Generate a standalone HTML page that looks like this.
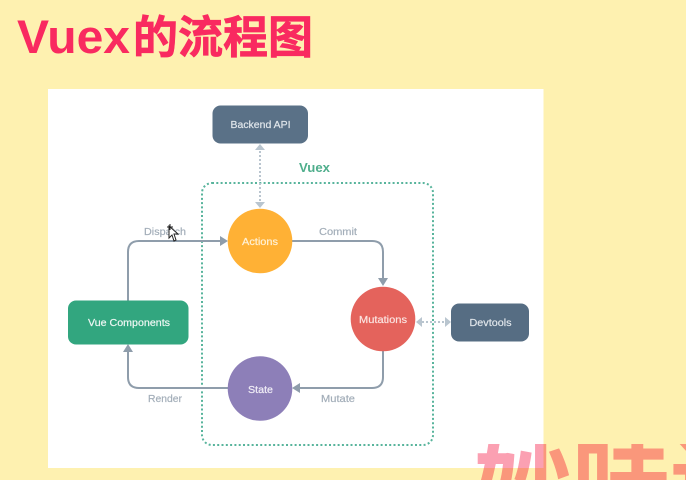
<!DOCTYPE html>
<html>
<head>
<meta charset="utf-8">
<style>
html,body{margin:0;padding:0;width:686px;height:480px;overflow:hidden;background:#fef1b0}
#frame{position:relative;width:686px;height:480px;overflow:hidden}
svg{display:block;position:absolute;left:0;top:0}
#wm{position:absolute;left:0;top:444px;width:686px;height:36px;overflow:hidden;mix-blend-mode:multiply}
#wm span{position:absolute;left:474px;top:-10px;width:212px;height:46px;overflow:hidden;display:block;font:700 98px/98px "Liberation Sans","Noto Sans CJK SC",sans-serif;color:#fba0b2;white-space:nowrap}
</style>
</head>
<body>
<div id="frame">
<svg width="686" height="480" viewBox="0 0 686 480" xmlns="http://www.w3.org/2000/svg" font-family="'Liberation Sans','Noto Sans CJK SC',sans-serif">
  <defs><filter id="b" x="-2%" y="-2%" width="104%" height="104%"><feGaussianBlur stdDeviation="0.35"/></filter></defs>
  <rect width="686" height="480" fill="#fef1b0"/>
  <rect x="48" y="89" width="495.500" height="379" fill="#fff"/>

  <g filter="url(#b)">
  <text x="17" y="53" font-size="47" font-weight="700" fill="#f92b60" textLength="113" lengthAdjust="spacingAndGlyphs">Vuex</text>
  <text x="133" y="53" font-size="45" font-weight="700" fill="#f92b60" stroke="#f92b60" stroke-width="0.7">的流程图</text>

  <rect x="202" y="183" width="231" height="262" rx="10" fill="none" stroke="#58b49c" stroke-width="2" stroke-dasharray="2 2.300"/>

  <g fill="none" stroke="#8f9dab" stroke-width="2">
    <path d="M128 301V252Q128 241 139 241H222"/>
    <path d="M292 241H372Q383 241 383 252V280"/>
    <path d="M383 351V377Q383 388 372 388H298"/>
    <path d="M228 388H139Q128 388 128 377V350"/>
  </g>
  <g fill="#8f9dab">
    <path d="M228 241L220 236V246Z"/>
    <path d="M383 286L378 278H388Z"/>
    <path d="M292 388L300 383V393Z"/>
    <path d="M128 344L123 352H133Z"/>
  </g>

  <g fill="none" stroke="#b9c5cf" stroke-width="2" stroke-dasharray="2 2">
    <path d="M260 151V202"/>
    <path d="M422 322H446"/>
  </g>
  <g fill="#b9c5cf">
    <path d="M260 144L255 150H265Z"/>
    <path d="M260 208L255 202H265Z"/>
    <path d="M416 322L422 317V327Z"/>
    <path d="M451 322L445 317V327Z"/>
  </g>

  <rect x="212.500" y="105.500" width="95.500" height="38" rx="8" fill="#5a7187"/>
  <rect x="68" y="300.500" width="120.500" height="44" rx="8" fill="#30a67f"/>
  <rect x="451" y="303.500" width="78" height="38" rx="8" fill="#576d83"/>
  <circle cx="260" cy="241" r="32.300" fill="#ffb135"/>
  <circle cx="383" cy="319" r="32.300" fill="#e4635b"/>
  <circle cx="260" cy="388.500" r="32.300" fill="#8d7fb8"/>

  <g font-size="10" fill="#dfe5ea" stroke-width="0.2">
    <text x="230.500" y="128" textLength="60" lengthAdjust="spacingAndGlyphs" stroke="#dfe5ea">Backend API</text>
    <text x="88" y="326" textLength="82" lengthAdjust="spacingAndGlyphs" fill="#eef7f3" stroke="#eef7f3">Vue Components</text>
    <text x="469.500" y="326" textLength="42" lengthAdjust="spacingAndGlyphs" stroke="#dfe5ea">Devtools</text>
    <text x="242" y="245" textLength="36" lengthAdjust="spacingAndGlyphs" fill="#fff1d6" stroke="#fff1d6">Actions</text>
    <text x="359" y="323" textLength="48" lengthAdjust="spacingAndGlyphs" fill="#fbe3e0" stroke="#fbe3e0">Mutations</text>
    <text x="248" y="393" textLength="25" lengthAdjust="spacingAndGlyphs" fill="#f0edf6" stroke="#f0edf6">State</text>
  </g>

  <text x="299" y="172" font-size="12.500" font-weight="700" fill="#4fae8c" textLength="31" lengthAdjust="spacingAndGlyphs">Vuex</text>

  <g font-size="10.500" fill="#a3aeb9" stroke="#a3aeb9" stroke-width="0.2">
    <text x="144" y="235" textLength="42" lengthAdjust="spacingAndGlyphs">Dispatch</text>
    <text x="319" y="235" textLength="38" lengthAdjust="spacingAndGlyphs">Commit</text>
    <text x="148" y="402" textLength="34" lengthAdjust="spacingAndGlyphs">Render</text>
    <text x="321" y="402" textLength="34" lengthAdjust="spacingAndGlyphs">Mutate</text>
  </g>
  </g>

  <path d="M169 226V238L172 235L174 241L176 240L174 234H178Z" fill="#fff" stroke="#222" stroke-width="1"/>
  <path d="M170 224V230M167 227H173" stroke="#222" stroke-width="1"/>
</svg>
<div id="wm"><span>妙味课</span></div>
</div>
</body>
</html>
